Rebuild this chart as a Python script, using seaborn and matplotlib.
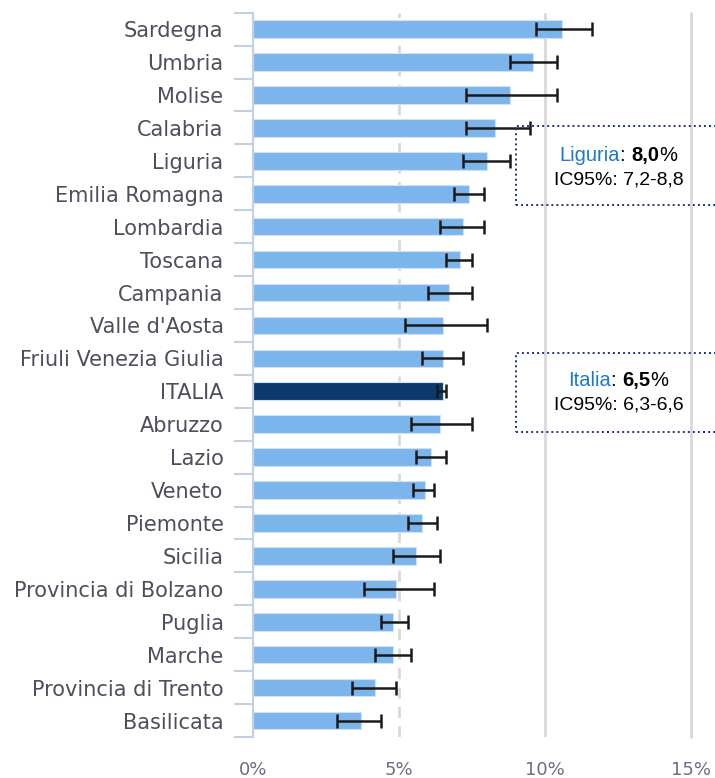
import numpy as np
import pandas as pd
import matplotlib
matplotlib.use('Agg')
import matplotlib.pyplot as plt
import seaborn as sns
from matplotlib.patches import Rectangle
from matplotlib.offsetbox import TextArea, HPacker, VPacker, AnnotationBbox

# %%
# Dati: prevalenza per regione con IC95%
regions = ['Sardegna', 'Umbria', 'Molise', 'Calabria', 'Liguria', 'Emilia Romagna',
           'Lombardia', 'Toscana', 'Campania', "Valle d'Aosta", 'Friuli Venezia Giulia',
           'ITALIA', 'Abruzzo', 'Lazio', 'Veneto', 'Piemonte', 'Sicilia',
           'Provincia di Bolzano', 'Puglia', 'Marche', 'Provincia di Trento', 'Basilicata']
values = [10.6, 9.6, 8.8, 8.3, 8.0, 7.4, 7.2, 7.1, 6.7, 6.5, 6.5,
          6.5, 6.4, 6.1, 5.9, 5.8, 5.6, 4.9, 4.8, 4.8, 4.2, 3.7]
ci_low = [9.7, 8.8, 7.3, 7.3, 7.2, 6.9, 6.4, 6.6, 6.0, 5.2, 5.8,
          6.3, 5.4, 5.6, 5.5, 5.3, 4.8, 3.8, 4.4, 4.2, 3.4, 2.9]
ci_high = [11.6, 10.4, 10.4, 9.5, 8.8, 7.9, 7.9, 7.5, 7.5, 8.0, 7.2,
           6.6, 7.5, 6.6, 6.2, 6.3, 6.4, 6.2, 5.3, 5.4, 4.9, 4.4]
xticks = [0, 5, 10, 15]
xticklabels = ['0%', '5%', '10%', '15%']

df = pd.DataFrame({'region': regions, 'value': values,
                   'group': ['Italia' if r == 'ITALIA' else 'Regione' for r in regions]})

# %%
sns.set_style('white')
fig = plt.figure(figsize=(7.15, 7.78), dpi=100)
ax = fig.add_axes([0.3535, 0.0527, 0.613, 0.931])

sns.barplot(data=df, x='value', y='region', hue='group', orient='h', dodge=False,
            palette={'Regione': '#7cb5ec', 'Italia': '#0d3a6d'}, saturation=1, legend=False,
            width=0.535, edgecolor='#cfe2f6', linewidth=0.8, ax=ax)

ypos = np.arange(len(regions))
vals = np.array(values)
ax.errorbar(vals, ypos, xerr=[vals - np.array(ci_low), np.array(ci_high) - vals],
            fmt='none', ecolor='#1a1a1a', elinewidth=1.8, capsize=5, capthick=1.8, zorder=5)

ax.set_xlim(0, 15)
ax.set_ylim(len(regions) - 0.5, -0.5)
ax.set_xlabel('')
ax.set_ylabel('')

ax.set_xticks(xticks)
ax.set_xticklabels(xticklabels, fontsize=13, color='#6a6e84')
ax.tick_params(axis='x', length=0, pad=17)
ax.tick_params(axis='y', which='major', left=True, length=0, pad=21, labelsize=15,
               labelcolor='#4e4e5c')
ax.set_yticks(np.arange(-0.5, len(regions), 1), minor=True)
ax.tick_params(axis='y', which='minor', left=True, length=14, width=1.5, color='#c3d0e4')

for side in ['top', 'right', 'bottom']:
    ax.spines[side].set_visible(False)
ax.spines['left'].set_color('#c3d0e4')
ax.spines['left'].set_linewidth(1.5)

ax.set_axisbelow(True)
ax.xaxis.grid(True, color='#d9d9d9', linewidth=2)
gl = ax.get_xgridlines()
gl[0].set_visible(False)
gl[1].set_linestyle((0, (4, 3)))
gl[-1].set_clip_on(False)

# %%
# Riquadri informativi
nfont = ['Liberation Sans', 'DejaVu Sans']


def info_box(name, val, ic, y0, ytext):
    line1 = HPacker(children=[
        TextArea(name, textprops=dict(color='#1f78c8', fontsize=14.5, family=nfont)),
        TextArea(': ', textprops=dict(color='black', fontsize=14.5, family=nfont)),
        TextArea(val, textprops=dict(color='black', fontsize=14.5, family=nfont, fontweight='bold')),
        TextArea('%', textprops=dict(color='black', fontsize=14.5, family=nfont)),
    ], align='baseline', pad=0, sep=0)
    line2 = TextArea('IC95%: ' + ic, textprops=dict(color='black', fontsize=14, family=nfont))
    box = VPacker(children=[line1, line2], align='center', pad=0, sep=5)
    ab = AnnotationBbox(box, (0.865, ytext), xycoords='figure fraction',
                        frameon=False, box_alignment=(0.5, 0.5))
    fig.add_artist(ab)
    rect = Rectangle((0.7217, y0), 0.4, 0.1015, transform=fig.transFigure, fill=False,
                     edgecolor='#1f3284', linewidth=1.4, linestyle=(0, (1, 1.6)), clip_on=False)
    fig.add_artist(rect)


info_box('Liguria', '8,0', '7,2-8,8', 0.7365, 0.785)
info_box('Italia', '6,5', '6,3-6,6', 0.4451, 0.496)

plt.savefig('out.png', dpi=100)
